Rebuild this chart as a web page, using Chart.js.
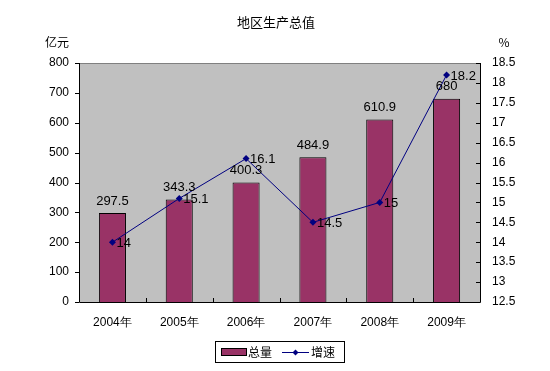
<!DOCTYPE html>
<html><head><meta charset="utf-8">
<script src="https://cdn.jsdelivr.net/npm/chart.js@4/dist/chart.umd.min.js"></script>
<style>html,body{margin:0;padding:0;background:#fff}canvas{display:block}</style>
</head><body>
<canvas id="c" width="550" height="371"></canvas>
<script>
const categories = ["2004年","2005年","2006年","2007年","2008年","2009年"];
const totalValues = [297.5, 343.3, 400.3, 484.9, 610.9, 680];
const growthValues = [14, 15.1, 16.1, 14.5, 15, 18.2];
const leftTicks = [0,100,200,300,400,500,600,700,800];
const rightTicks = [12.5,13,13.5,14,14.5,15,15.5,16,16.5,17,17.5,18,18.5];
const titleText = "地区生产总值";
const leftUnit = "亿元";
const rightUnit = "%";
const seriesNames = ["总量","增速"];

const FONT = "'Liberation Sans', Arial, sans-serif";
const CJK = "'Noto Sans CJK SC', sans-serif";

const decor = {
  id: 'decor',
  beforeDraw(chart) {
    const {ctx, chartArea: a} = chart;
    ctx.save();
    ctx.fillStyle = '#C0C0C0';
    ctx.fillRect(a.left, a.top, a.right - a.left, a.bottom - a.top);
    ctx.restore();
  },
  afterDatasetsDraw(chart) {
    const {ctx, chartArea: a} = chart;
    ctx.save();
    ctx.lineWidth = 1;
    ctx.strokeStyle = '#808080';
    ctx.beginPath(); ctx.moveTo(a.left, a.top + 0.5); ctx.lineTo(a.right, a.top + 0.5); ctx.stroke();
    ctx.strokeStyle = '#000';
    ctx.beginPath();
    ctx.moveTo(a.left + 0.5, a.top); ctx.lineTo(a.left + 0.5, a.bottom + 0.5);
    ctx.lineTo(a.right + 0.5, a.bottom + 0.5); ctx.lineTo(a.right + 0.5, a.top);
    ctx.stroke();
    const yL = chart.scales.y, yR = chart.scales.y1;
    ctx.beginPath();
    leftTicks.forEach(v => { const p = Math.round(yL.getPixelForValue(v)) + 0.5; ctx.moveTo(a.left - 4, p); ctx.lineTo(a.left, p); });
    rightTicks.forEach(v => { const p = Math.round(yR.getPixelForValue(v)) + 0.5; ctx.moveTo(a.right - 4, p); ctx.lineTo(a.right, p); });
    const n = categories.length, w = (a.right - a.left) / n;
    for (let i = 1; i < n; i++) { const p = Math.round(a.left + w * i) + 0.5; ctx.moveTo(p, a.bottom); ctx.lineTo(p, a.bottom - 4); }
    ctx.stroke();

    ctx.fillStyle = '#000';
    ctx.font = '13px ' + FONT;
    const mBar = chart.getDatasetMeta(1), mLine = chart.getDatasetMeta(0);
    ctx.textAlign = 'center'; ctx.textBaseline = 'middle';
    mBar.data.forEach((el, i) => { ctx.fillText(String(totalValues[i]), el.x, el.y - 12); });
    ctx.textAlign = 'left'; ctx.textBaseline = 'middle';
    mLine.data.forEach((el, i) => { ctx.fillText(String(growthValues[i]), el.x + 4, el.y + 1); });

    ctx.font = '13px ' + CJK;
    ctx.textAlign = 'center'; ctx.textBaseline = 'middle';
    ctx.fillText(titleText, 276, 22);
    ctx.font = '12px ' + CJK;
    ctx.fillText(leftUnit, 57, 42);
    ctx.fillText(rightUnit, 504, 42);

    const lx = 215, ly = 341, lw = 129, lh = 21;
    ctx.fillStyle = '#fff';
    ctx.fillRect(lx, ly, lw, lh);
    ctx.strokeStyle = '#000';
    ctx.strokeRect(lx + 0.5, ly + 0.5, lw, lh);
    ctx.fillStyle = '#993366';
    ctx.fillRect(lx + 6, ly + 8, 25, 6);
    ctx.strokeRect(lx + 6.5, ly + 7.5, 25, 7);
    ctx.fillStyle = '#000';
    ctx.font = '12px ' + CJK;
    ctx.textAlign = 'left'; ctx.textBaseline = 'middle';
    ctx.fillText(seriesNames[0], lx + 33, ly + 11);
    ctx.strokeStyle = '#000080';
    ctx.beginPath(); ctx.moveTo(lx + 67, ly + 11.5); ctx.lineTo(lx + 94, ly + 11.5); ctx.stroke();
    ctx.fillStyle = '#000080';
    ctx.beginPath(); ctx.moveTo(lx + 80.5, ly + 8.5); ctx.lineTo(lx + 83.5, ly + 11.5); ctx.lineTo(lx + 80.5, ly + 14.5); ctx.lineTo(lx + 77.5, ly + 11.5); ctx.closePath(); ctx.fill();
    ctx.fillStyle = '#000';
    ctx.fillText(seriesNames[1], lx + 96, ly + 11);
    ctx.restore();
  }
};

new Chart(document.getElementById('c'), {
  data: {
    labels: categories,
    datasets: [
      { type: 'line', label: seriesNames[1], data: growthValues, yAxisID: 'y1',
        borderColor: '#000080', borderWidth: 1, backgroundColor: '#000080',
        pointStyle: 'rectRot', pointRadius: 3.5, pointBorderWidth: 0, tension: 0, order: 0 },
      { type: 'bar', label: seriesNames[0], data: totalValues, yAxisID: 'y',
        backgroundColor: '#993366', borderColor: '#000', borderWidth: 1,
        categoryPercentage: 1, barPercentage: 0.405, order: 1 }
    ]
  },
  options: {
    responsive: false, animation: false,
    layout: { padding: { top: 63, left: 0, right: 0, bottom: 0 } },
    plugins: { legend: { display: false }, title: { display: false }, tooltip: { enabled: false } },
    scales: {
      x: { grid: { display: false, drawTicks: false }, border: { display: false },
        ticks: { color: '#000', font: { family: FONT, size: 12 }, padding: 13, maxRotation: 0 },
        afterFit(s) { s.height = 69; } },
      y: { position: 'left', min: 0, max: 800, grid: { display: false, drawTicks: false }, border: { display: false },
        afterBuildTicks(s) { s.ticks = leftTicks.map(v => ({ value: v })); },
        ticks: { color: '#000', font: { family: FONT, size: 12 }, padding: 10, callback: v => String(v) },
        afterFit(s) { s.width = 79; } },
      y1: { position: 'right', min: 12.5, max: 18.5, grid: { display: false, drawTicks: false }, border: { display: false },
        afterBuildTicks(s) { s.ticks = rightTicks.map(v => ({ value: v })); },
        ticks: { color: '#000', font: { family: FONT, size: 12 }, padding: 12, callback: v => String(v) },
        afterFit(s) { s.width = 70; } }
    }
  },
  plugins: [decor]
});
</script>
</body></html>
